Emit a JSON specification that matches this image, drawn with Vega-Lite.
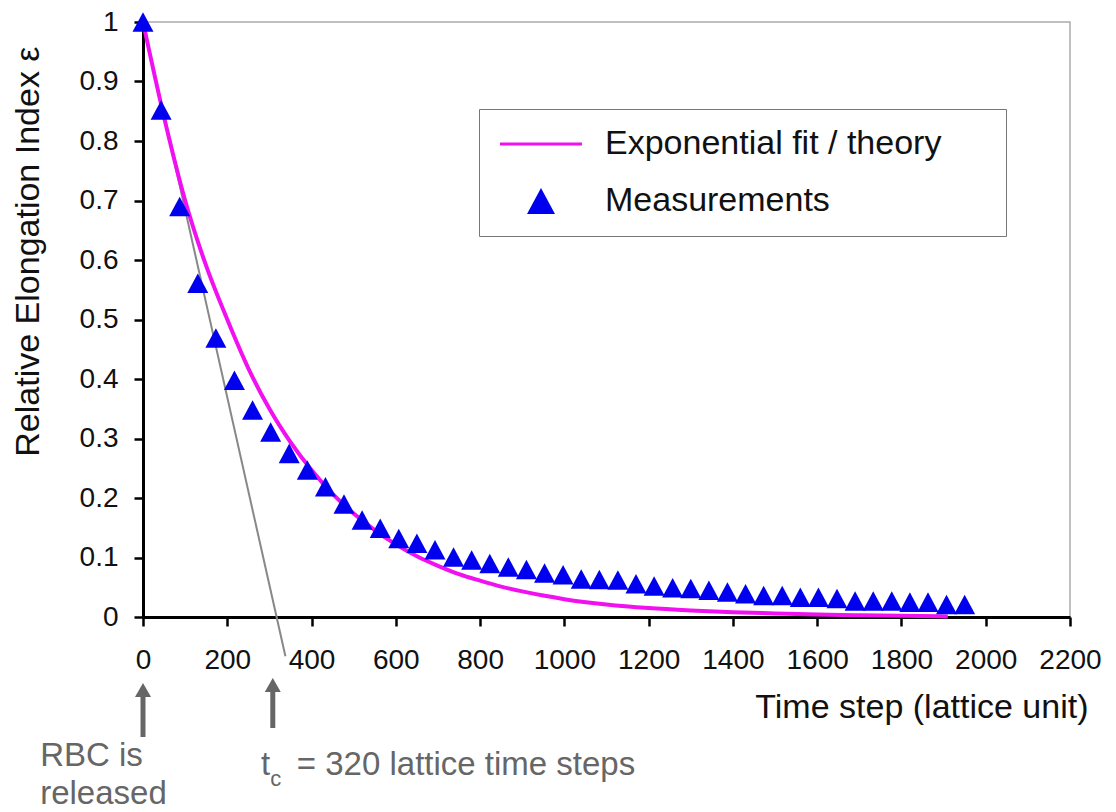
{
  "$schema": "https://vega.github.io/schema/vega-lite/v6.json",
  "width": 927,
  "height": 595,
  "autosize": "none",
  "padding": {"left": 143, "top": 22, "right": 46, "bottom": 195},
  "background": "white",
  "config": {
    "font": "Liberation Sans",
    "view": {"stroke": "#aaaaaa", "strokeWidth": 1.5},
    "axis": {"grid": false, "domainColor": "black", "domainWidth": 3, "tickColor": "black", "tickWidth": 2.5, "tickSize": 9, "labelColor": "#111111", "labelFontSize": 28, "labelFont": "Liberation Sans", "labelOverlap": false, "labelFlush": false, "titleFont": "Liberation Sans", "titleFontSize": 34, "titleFontWeight": "normal", "titleColor": "#111111"}
  },
  "datasets": {
    "meas": [
      {"t": 0, "v": 1.0, "series": "Measurements"},
      {"t": 43, "v": 0.852, "series": "Measurements"},
      {"t": 87, "v": 0.69, "series": "Measurements"},
      {"t": 130, "v": 0.561, "series": "Measurements"},
      {"t": 173, "v": 0.469, "series": "Measurements"},
      {"t": 217, "v": 0.398, "series": "Measurements"},
      {"t": 260, "v": 0.348, "series": "Measurements"},
      {"t": 303, "v": 0.311, "series": "Measurements"},
      {"t": 347, "v": 0.275, "series": "Measurements"},
      {"t": 390, "v": 0.247, "series": "Measurements"},
      {"t": 433, "v": 0.219, "series": "Measurements"},
      {"t": 477, "v": 0.190, "series": "Measurements"},
      {"t": 520, "v": 0.163, "series": "Measurements"},
      {"t": 563, "v": 0.149, "series": "Measurements"},
      {"t": 607, "v": 0.132, "series": "Measurements"},
      {"t": 650, "v": 0.124, "series": "Measurements"},
      {"t": 693, "v": 0.113, "series": "Measurements"},
      {"t": 737, "v": 0.101, "series": "Measurements"},
      {"t": 780, "v": 0.096, "series": "Measurements"},
      {"t": 823, "v": 0.090, "series": "Measurements"},
      {"t": 867, "v": 0.084, "series": "Measurements"},
      {"t": 910, "v": 0.080, "series": "Measurements"},
      {"t": 953, "v": 0.074, "series": "Measurements"},
      {"t": 997, "v": 0.071, "series": "Measurements"},
      {"t": 1040, "v": 0.064, "series": "Measurements"},
      {"t": 1083, "v": 0.063, "series": "Measurements"},
      {"t": 1127, "v": 0.062, "series": "Measurements"},
      {"t": 1170, "v": 0.056, "series": "Measurements"},
      {"t": 1213, "v": 0.052, "series": "Measurements"},
      {"t": 1257, "v": 0.049, "series": "Measurements"},
      {"t": 1300, "v": 0.048, "series": "Measurements"},
      {"t": 1343, "v": 0.045, "series": "Measurements"},
      {"t": 1387, "v": 0.042, "series": "Measurements"},
      {"t": 1430, "v": 0.039, "series": "Measurements"},
      {"t": 1473, "v": 0.036, "series": "Measurements"},
      {"t": 1517, "v": 0.036, "series": "Measurements"},
      {"t": 1560, "v": 0.033, "series": "Measurements"},
      {"t": 1603, "v": 0.033, "series": "Measurements"},
      {"t": 1647, "v": 0.031, "series": "Measurements"},
      {"t": 1690, "v": 0.027, "series": "Measurements"},
      {"t": 1733, "v": 0.027, "series": "Measurements"},
      {"t": 1777, "v": 0.027, "series": "Measurements"},
      {"t": 1820, "v": 0.025, "series": "Measurements"},
      {"t": 1863, "v": 0.025, "series": "Measurements"},
      {"t": 1907, "v": 0.021, "series": "Measurements"},
      {"t": 1950, "v": 0.021, "series": "Measurements"}
    ],
    "fit": [
      {"t": 0, "v": 1.0}, {"t": 50, "v": 0.84}, {"t": 100, "v": 0.70}, {"t": 150, "v": 0.59},
      {"t": 200, "v": 0.50}, {"t": 250, "v": 0.418}, {"t": 300, "v": 0.35}, {"t": 350, "v": 0.294},
      {"t": 400, "v": 0.247}, {"t": 450, "v": 0.207}, {"t": 500, "v": 0.174}, {"t": 550, "v": 0.146},
      {"t": 600, "v": 0.122}, {"t": 650, "v": 0.102}, {"t": 700, "v": 0.086}, {"t": 750, "v": 0.072},
      {"t": 800, "v": 0.061}, {"t": 850, "v": 0.051}, {"t": 900, "v": 0.043}, {"t": 950, "v": 0.036},
      {"t": 1000, "v": 0.030}, {"t": 1100, "v": 0.021}, {"t": 1200, "v": 0.015}, {"t": 1300, "v": 0.011},
      {"t": 1400, "v": 0.008}, {"t": 1500, "v": 0.006}, {"t": 1600, "v": 0.004}, {"t": 1700, "v": 0.003},
      {"t": 1800, "v": 0.002}, {"t": 1910, "v": 0.001}
    ],
    "tangent": [{"t": 0, "v": 1.0}, {"t": 338, "v": -0.066}],
    "arrows": [
      {"t": 0, "head": -0.1227, "tail": -0.2017},
      {"t": 308, "head": -0.1143, "tail": -0.1866}
    ],
    "notes": [
      {"t": -244, "v": -0.2504, "label": "RBC is"},
      {"t": -244, "v": -0.314, "label": "released"},
      {"t": 280, "v": -0.2655, "label": "t"},
      {"t": 365, "v": -0.2655, "label": "= 320 lattice time steps"}
    ],
    "sub": [{"t": 302, "v": -0.284, "label": "c"}]
  },
  "layer": [
    {
      "data": {"name": "tangent"},
      "mark": {"type": "line", "color": "#888888", "strokeWidth": 2},
      "encoding": {
        "x": {"field": "t", "type": "quantitative", "title": "Time step (lattice unit)",
              "scale": {"domain": [0, 2200], "nice": false, "zero": false},
              "axis": {"values": [0,200,400,600,800,1000,1200,1400,1600,1800,2000,2200], "format": "d", "labelPadding": 20, "labelOverlap": false, "labelFlush": false, "titleAnchor": "end", "titleAlign": "right", "titleBaseline": "alphabetic", "titleX": 945, "titleY": 100}},
        "y": {"field": "v", "type": "quantitative", "title": "Relative Elongation Index ε",
              "scale": {"domain": [0, 1], "nice": false, "zero": false},
              "axis": {"values": [0,0.1,0.2,0.3,0.4,0.5,0.6,0.7,0.8,0.9,1], "format": "~g", "labelPadding": 16, "labelOverlap": false, "labelFlush": false, "titleAnchor": "end", "titleAlign": "right", "titleAngle": -90, "titleBaseline": "alphabetic", "titleX": -105, "titleY": 24}}
      }
    },
    {
      "data": {"name": "fit"},
      "mark": {"type": "line", "color": "#f010f0", "strokeWidth": 4, "interpolate": "monotone"},
      "encoding": {
        "x": {"field": "t", "type": "quantitative", "title": "Time step (lattice unit)", "scale": {"domain": [0, 2200], "nice": false, "zero": false}},
        "y": {"field": "v", "type": "quantitative", "title": "Relative Elongation Index ε", "scale": {"domain": [0, 1], "nice": false, "zero": false}}
      }
    },
    {
      "data": {"name": "meas"},
      "mark": {"type": "point", "filled": true, "opacity": 1, "size": 506, "strokeWidth": 0},
      "encoding": {
        "x": {"field": "t", "type": "quantitative", "title": "Time step (lattice unit)", "scale": {"domain": [0, 2200], "nice": false, "zero": false}},
        "y": {"field": "v", "type": "quantitative", "title": "Relative Elongation Index ε", "scale": {"domain": [0, 1], "nice": false, "zero": false}},
        "color": {"field": "series", "type": "nominal",
                  "scale": {"domain": ["Exponential fit / theory", "Measurements"], "range": ["#f010f0", "#0000ee"]},
                  "legend": {"orient": "none", "legendX": 336, "legendY": 87, "title": " ", "titleOrient": "right", "titlePadding": 47, "titleFontSize": 2, "padding": 18, "rowPadding": 23,
                             "labelFontSize": 34, "labelFont": "Liberation Sans", "labelColor": "#111111", "labelLimit": 600, "symbolSize": 900, "labelOffset": 47, "symbolOffset": 27,
                             "strokeColor": "#777777", "fillColor": "white", "symbolStrokeWidth": 0}},
        "shape": {"field": "series", "type": "nominal",
                  "scale": {"domain": ["Exponential fit / theory", "Measurements"], "range": ["M-2.733,-0.107L2.733,-0.107L2.733,0.107L-2.733,0.107Z", "M-0.933,0.867L0,-0.867L0.933,0.867Z"]},
                  "legend": {"orient": "none", "legendX": 336, "legendY": 87, "title": " ", "titleOrient": "right", "titlePadding": 47, "titleFontSize": 2, "padding": 18, "rowPadding": 23,
                             "labelFontSize": 34, "labelFont": "Liberation Sans", "labelColor": "#111111", "labelLimit": 600, "symbolSize": 900, "labelOffset": 47, "symbolOffset": 27,
                             "strokeColor": "#777777", "fillColor": "white", "symbolStrokeWidth": 0}}
      }
    },
    {
      "data": {"name": "arrows"},
      "mark": {"type": "rule", "color": "#666666", "strokeWidth": 5},
      "encoding": {
        "x": {"field": "t", "type": "quantitative", "scale": {"domain": [0, 2200], "nice": false, "zero": false}},
        "y": {"field": "head", "type": "quantitative", "scale": {"domain": [0, 1], "nice": false, "zero": false}},
        "y2": {"field": "tail"}
      }
    },
    {
      "data": {"name": "arrows"},
      "mark": {"type": "point", "shape": "triangle-up", "filled": true, "color": "#666666", "opacity": 1, "size": 256},
      "encoding": {
        "x": {"field": "t", "type": "quantitative", "scale": {"domain": [0, 2200], "nice": false, "zero": false}},
        "y": {"field": "head", "type": "quantitative", "scale": {"domain": [0, 1], "nice": false, "zero": false}}
      }
    },
    {
      "data": {"name": "notes"},
      "mark": {"type": "text", "align": "left", "baseline": "alphabetic", "fontSize": 33, "color": "#666666", "font": "Liberation Sans"},
      "encoding": {
        "x": {"field": "t", "type": "quantitative", "scale": {"domain": [0, 2200], "nice": false, "zero": false}},
        "y": {"field": "v", "type": "quantitative", "scale": {"domain": [0, 1], "nice": false, "zero": false}},
        "text": {"field": "label"}
      }
    },
    {
      "data": {"name": "sub"},
      "mark": {"type": "text", "align": "left", "baseline": "alphabetic", "fontSize": 22, "color": "#666666", "font": "Liberation Sans"},
      "encoding": {
        "x": {"field": "t", "type": "quantitative", "scale": {"domain": [0, 2200], "nice": false, "zero": false}},
        "y": {"field": "v", "type": "quantitative", "scale": {"domain": [0, 1], "nice": false, "zero": false}},
        "text": {"field": "label"}
      }
    }
  ]
}
